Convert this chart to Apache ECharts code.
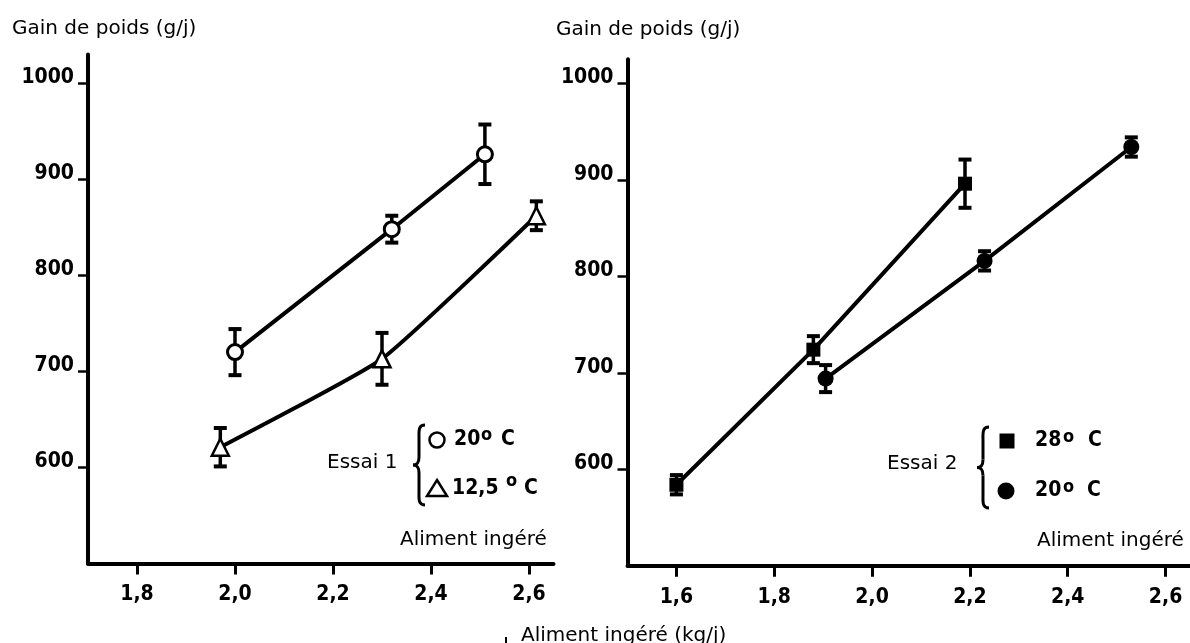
<!DOCTYPE html>
<html>
<head>
<meta charset="utf-8">
<script src="https://cdn.jsdelivr.net/npm/echarts@6/dist/echarts.min.js"></script>
<style>
html,body{margin:0;padding:0;background:#fff;}
#chart{width:1190px;height:643px;}
</style>
</head>
<body>
<div id="chart"></div>
<script>
// ---------- data ----------
const yTicks = [600, 700, 800, 900, 1000];
const xTicks1 = [1.8, 2.0, 2.2, 2.4, 2.6];
const xTicks2 = [1.6, 1.8, 2.0, 2.2, 2.4, 2.6];

// Essai 1, 20 °C (open circles)
const e1_20_x = [2.00, 2.32, 2.51];
const e1_20_y = [720, 848, 926];
const e1_20_err = [24, 14, 31];
// Essai 1, 12,5 °C (open triangles)
const e1_12_x = [1.97, 2.30, 2.615];
const e1_12_y = [621, 713, 862];
const e1_12_err = [20, 27, 15];
// Essai 2, 28 °C (filled squares)
const e2_28_x = [1.60, 1.88, 2.19];
const e2_28_y = [584, 724, 896];
const e2_28_err = [10, 14, 25];
// Essai 2, 20 °C (filled circles)
const e2_20_x = [1.905, 2.23, 2.53];
const e2_20_y = [694, 816, 934];
const e2_20_err = [14, 10, 10];

// ---------- styling ----------
const BOLD = "'DejaVu Sans Condensed', sans-serif";
const REG = "'DejaVu Sans', sans-serif";
const chart = echarts.init(document.getElementById('chart'), null, {renderer: 'canvas'});

function pts(xs, ys) { return xs.map((x, i) => [x, ys[i]]); }
function errPts(xs, ys, es) { return xs.map((x, i) => [x, ys[i], es[i]]); }

function errSeries(xs, ys, es, idx) {
  return {
    type: 'custom', xAxisIndex: idx, yAxisIndex: idx, z: 2, clip: false,
    data: errPts(xs, ys, es), encode: {x: 0, y: 1},
    renderItem: function (params, api) {
      const x = api.value(0), y = api.value(1), e = api.value(2);
      const t = api.coord([x, y + e]);
      const b = api.coord([x, y - e]);
      const hw = 6.5;
      return {type: 'group', children: [
        {type: 'line', shape: {x1: t[0], y1: t[1], x2: b[0], y2: b[1]}, style: {stroke: '#000', lineWidth: 3.5}},
        {type: 'line', shape: {x1: t[0] - hw, y1: t[1], x2: t[0] + hw, y2: t[1]}, style: {stroke: '#000', lineWidth: 4}},
        {type: 'line', shape: {x1: b[0] - hw, y1: b[1], x2: b[0] + hw, y2: b[1]}, style: {stroke: '#000', lineWidth: 4}}
      ]};
    }
  };
}

function lineSeries(xs, ys, idx, symbol, size, fill, bw, smooth) {
  return {
    type: 'line', xAxisIndex: idx, yAxisIndex: idx, z: 5,
    data: pts(xs, ys), symbol: symbol, symbolSize: size, showAllSymbol: true,
    smooth: smooth || false,
    lineStyle: {color: '#000', width: 4},
    itemStyle: {color: fill, borderColor: '#000', borderWidth: bw, opacity: 1},
    emphasis: {disabled: true}
  };
}

function xAxisDef(idx, min, max, ticks) {
  return {
    type: 'value', gridIndex: idx, min: min, max: max,
    axisLine: {show: true, onZero: false, lineStyle: {color: '#000', width: 4}},
    axisTick: {show: true, inside: false, length: 11, customValues: ticks, lineStyle: {color: '#000', width: 3}},
    axisLabel: {show: true, customValues: ticks, margin: 21, color: '#000', fontFamily: BOLD, fontWeight: 'bold', fontSize: 21,
      formatter: v => Number(v).toFixed(1).replace('.', ',')},
    splitLine: {show: false}
  };
}
function yAxisDef(idx, min, max) {
  return {
    type: 'value', gridIndex: idx, min: min, max: max,
    axisLine: {show: true, onZero: false, lineStyle: {color: '#000', width: 4}},
    axisTick: {show: true, inside: false, length: 10, customValues: yTicks, lineStyle: {color: '#000', width: 2.5}},
    axisLabel: {show: true, customValues: yTicks, margin: 14, color: '#000', fontFamily: BOLD, fontWeight: 'bold', fontSize: 21,
      verticalAlign: 'bottom', lineHeight: 11, formatter: v => String(v)},
    splitLine: {show: false}
  };
}

function txt(text, x, y, opts) {
  return {type: 'text', z: 10, style: Object.assign({
    text: text, x: x, y: y, fill: '#000', font: '20px ' + REG, textAlign: 'left', textVerticalAlign: 'middle'
  }, opts || {})};
}
function btxt(text, x, y, size) {
  return txt(text, x, y, {font: 'bold ' + (size || 21) + 'px ' + BOLD});
}
function brace(x, y, h) {
  const m = h / 2;
  const st = {stroke: '#000', lineWidth: 3, fill: null};
  const bz = (x1, y1, c1x, c1y, c2x, c2y, x2, y2) => ({type: 'bezierCurve',
    shape: {x1: x1, y1: y1, cpx1: c1x, cpy1: c1y, cpx2: c2x, cpy2: c2y, x2: x2, y2: y2}, style: st});
  const ln = (x1, y1, x2, y2) => ({type: 'line', shape: {x1: x1, y1: y1, x2: x2, y2: y2}, style: st});
  return {type: 'group', x: x, y: y, z: 10, children: [
    bz(12, 0, 5, 0, 6, 6, 6, 14),
    ln(6, 14, 6, m - 8),
    bz(6, m - 8, 6, m - 2, 4, m, 0, m),
    bz(0, m, 4, m, 6, m + 2, 6, m + 8),
    ln(6, m + 8, 6, h - 14),
    bz(6, h - 14, 6, h - 6, 5, h, 12, h)
  ]};
}

const option = {
  animation: false,
  backgroundColor: '#fff',
  grid: [
    {left: 88, top: 54.4, width: 465.5, height: 509, containLabel: false},
    {left: 627.5, top: 59.2, width: 569, height: 506.6, containLabel: false}
  ],
  xAxis: [xAxisDef(0, 1.7, 2.65, xTicks1), xAxisDef(1, 1.5, 2.65, xTicks2)],
  yAxis: [yAxisDef(0, 500, 1030), yAxisDef(1, 500, 1025)],
  series: [
    errSeries(e1_20_x, e1_20_y, e1_20_err, 0),
    errSeries(e1_12_x, e1_12_y, e1_12_err, 0),
    errSeries(e2_28_x, e2_28_y, e2_28_err, 1),
    errSeries(e2_20_x, e2_20_y, e2_20_err, 1),
    lineSeries(e1_20_x, e1_20_y, 0, 'circle', 15, '#fff', 3),
    lineSeries(e1_12_x, e1_12_y, 0, 'triangle', 17, '#fff', 2.5, 0.15),
    lineSeries(e2_28_x, e2_28_y, 1, 'rect', 14, '#000', 0),
    lineSeries(e2_20_x, e2_20_y, 1, 'circle', 16, '#000', 0)
  ],
  graphic: [
    txt('Gain de poids (g/j)', 12, 29),
    txt('Gain de poids (g/j)', 556, 30),
    txt('Aliment ingéré', 400, 540),
    txt('Aliment ingéré', 1037, 541),
    txt('Aliment ingéré (kg/j)', 521, 636),
    {type: 'rect', z: 10, shape: {x: 505, y: 637, width: 2, height: 6}, style: {fill: '#000'}},
    // Essai 1 legend
    txt('Essai 1', 327, 463),
    brace(413, 425, 80),
    {type: 'circle', z: 10, shape: {cx: 437, cy: 440, r: 7.5}, style: {fill: '#fff', stroke: '#000', lineWidth: 2.5}},
    btxt('20', 454, 440), btxt('o', 481, 435, 18), btxt('C', 501, 440),
    {type: 'polygon', z: 10, shape: {points: [[437, 480], [447, 496], [427, 496]]}, style: {fill: '#fff', stroke: '#000', lineWidth: 2.5}},
    btxt('12,5', 452, 489), btxt('o', 506, 481, 18), btxt('C', 524, 489),
    // Essai 2 legend
    txt('Essai 2', 887, 464),
    brace(977, 427, 81),
    {type: 'rect', z: 10, shape: {x: 999.5, y: 433.5, width: 15, height: 15}, style: {fill: '#000'}},
    btxt('28', 1035, 441), btxt('o', 1063, 437, 18), btxt('C', 1088, 441),
    {type: 'circle', z: 10, shape: {cx: 1006, cy: 491, r: 8.5}, style: {fill: '#000'}},
    btxt('20', 1035, 491), btxt('o', 1063, 487, 18), btxt('C', 1087, 491)
  ]
};
chart.setOption(option);
</script>
</body>
</html>
